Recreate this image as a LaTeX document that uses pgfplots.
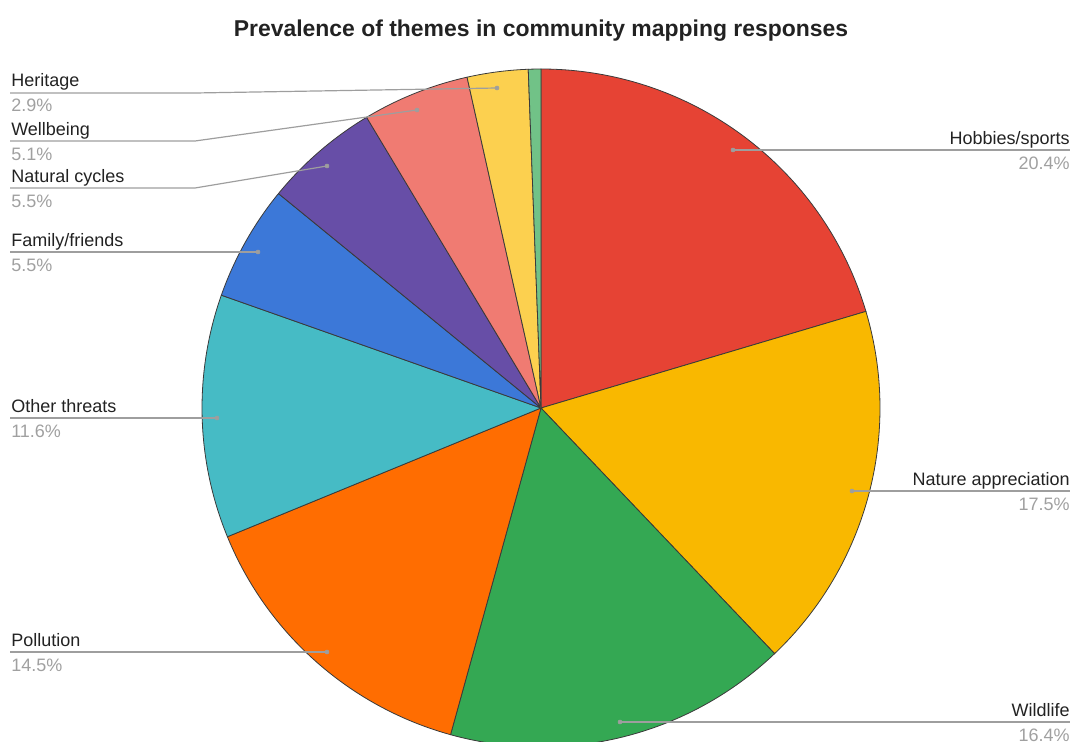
\documentclass[border=0pt]{standalone}
\usepackage{pgfplots}
\usepackage{pgfplotstable}
\pgfplotsset{compat=1.18}
\usepackage{fontspec}
\setmainfont{Liberation Sans}
\definecolor{c0}{HTML}{E64334}
\definecolor{c1}{HTML}{F9B800}
\definecolor{c2}{HTML}{34A853}
\definecolor{c3}{HTML}{FF6D01}
\definecolor{c4}{HTML}{46BBC5}
\definecolor{c5}{HTML}{3C78D8}
\definecolor{c6}{HTML}{674EA7}
\definecolor{c7}{HTML}{F07B72}
\definecolor{c8}{HTML}{FCD04F}
\definecolor{c9}{HTML}{71C287}
\definecolor{edge}{HTML}{3A3A3A}
\definecolor{leader}{HTML}{9E9E9E}
\definecolor{pctcol}{HTML}{A0A0A0}
\definecolor{namecol}{HTML}{222222}
\newcommand\labelfont{\fontsize{13.5}{16}\selectfont}
\newcommand\titlefont{\fontsize{17.2}{20}\selectfont\bfseries}
% shares of the themes, clockwise from 12 o'clock
\pgfplotstableread{
value
20.4
17.5
16.4
14.5
11.6
5.5
5.5
5.1
2.9
0.6
}\pietable
\begin{document}
\begin{tikzpicture}
\begin{axis}[hide axis, scale only axis, x=0.75pt, y=0.75pt,
  xmin=0, xmax=1074, ymin=0, ymax=742, y dir=reverse, clip=true]
\xdef\cum{0}
\pgfplotsforeachungrouped \i in {0,...,9}{%
  \pgfplotstablegetelem{\i}{value}\of\pietable
  \let\v\pgfplotsretval
  \pgfmathsetmacro\sa{90-3.6*\cum}
  \pgfmathsetmacro\ea{90-3.6*(\cum+\v)}
  \edef\tmp{\noexpand\filldraw[fill=c\i, draw=edge, line width=0.6pt, line join=round]
    (axis cs:541,408) -- ++(\sa:254.25pt) arc[start angle=\sa, end angle=\ea, radius=254.25pt] -- cycle;}%
  \tmp
  \pgfmathsetmacro\cumnew{\cum+\v}%
  \xdef\cum{\cumnew}%
}
% leader lines
\addplot[leader, line width=0.9pt] coordinates {(733,150) (1070,150)};
\addplot[leader, line width=0.9pt] coordinates {(852,491) (1070,491)};
\addplot[leader, line width=0.9pt] coordinates {(620,722) (1070,722)};
\addplot[leader, line width=0.9pt] coordinates {(327,652) (10,652)};
\addplot[leader, line width=0.9pt] coordinates {(217,418) (10,418)};
\addplot[leader, line width=0.9pt] coordinates {(258,252) (10,252)};
\addplot[leader, line width=0.9pt] coordinates {(327,166) (195,188) (10,188)};
\addplot[leader, line width=0.9pt] coordinates {(417,110) (195,141) (10,141)};
\addplot[leader, line width=0.9pt] coordinates {(497,88) (195,93) (10,93)};
\addplot[only marks, mark=*, mark size=1.5pt, leader] coordinates {
 (733,150) (852,491) (620,722) (327,652) (217,418) (258,252) (327,166) (417,110) (497,88)};
% right labels
\tikzset{lbl/.style={font=\labelfont, inner sep=0pt}}
\node[lbl, anchor=base east, text=namecol] at (axis cs:1070,144) {Hobbies/sports};
\node[lbl, anchor=base east, text=pctcol] at (axis cs:1070,169) {20.4\%};
\node[lbl, anchor=base east, text=namecol] at (axis cs:1070,485) {Nature appreciation};
\node[lbl, anchor=base east, text=pctcol] at (axis cs:1070,510) {17.5\%};
\node[lbl, anchor=base east, text=namecol] at (axis cs:1070,716) {Wildlife};
\node[lbl, anchor=base east, text=pctcol] at (axis cs:1070,741) {16.4\%};
% left labels
\node[lbl, anchor=base west, text=namecol] at (axis cs:11,646) {Pollution};
\node[lbl, anchor=base west, text=pctcol] at (axis cs:11,671) {14.5\%};
\node[lbl, anchor=base west, text=namecol] at (axis cs:11,412) {Other threats};
\node[lbl, anchor=base west, text=pctcol] at (axis cs:11,437) {11.6\%};
\node[lbl, anchor=base west, text=namecol] at (axis cs:11,246) {Family/friends};
\node[lbl, anchor=base west, text=pctcol] at (axis cs:11,271) {5.5\%};
\node[lbl, anchor=base west, text=namecol] at (axis cs:11,182) {Natural cycles};
\node[lbl, anchor=base west, text=pctcol] at (axis cs:11,207) {5.5\%};
\node[lbl, anchor=base west, text=namecol] at (axis cs:11,135) {Wellbeing};
\node[lbl, anchor=base west, text=pctcol] at (axis cs:11,160) {5.1\%};
\node[lbl, anchor=base west, text=namecol] at (axis cs:11,87) {Heritage};
\node[lbl, anchor=base west, text=pctcol] at (axis cs:11,112) {2.9\%};
% title
\node[anchor=base, font=\titlefont, text=namecol, inner sep=0pt] at (axis cs:541,37) {Prevalence of themes in community mapping responses};
\end{axis}
\pgfresetboundingbox
\path (current axis.south west) rectangle (current axis.north east);
\end{tikzpicture}
\end{document}
